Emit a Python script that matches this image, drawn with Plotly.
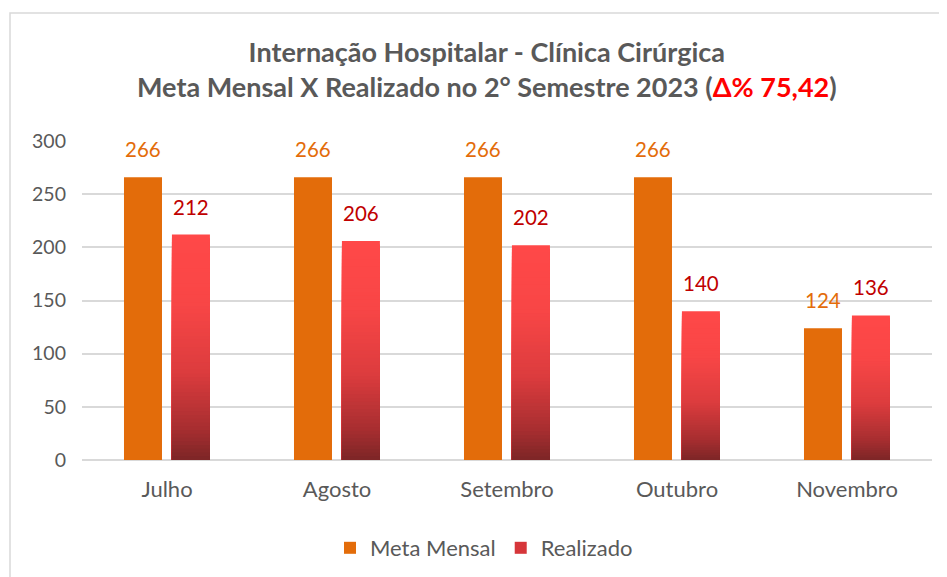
import plotly.graph_objects as go

# ---- data ----
months = ["Julho", "Agosto", "Setembro", "Outubro", "Novembro"]
meta_mensal = [266, 266, 266, 266, 124]
realizado = [212, 206, 202, 140, 136]
y_ticks = [0, 50, 100, 150, 200, 250, 300]

title_line1 = "Internação Hospitalar - Clínica Cirúrgica"
title_line2 = "Meta Mensal X Realizado no 2° Semestre 2023 ("
title_delta = "Δ% 75,42"

FONT = "Lato, 'Open Sans', sans-serif"
GRAY = "#595959"
ORANGE = "#E36C0A"
DARKRED = "#C00000"

# page body offset (browser default margin)
PAGE = 8
PL, PR, PT, PB = 82 - PAGE, 932 - PAGE, 141 - PAGE, 460 - PAGE   # plot area in figure px
FW, FH = 947 - PAGE, 577 - PAGE

def px_x(px):
    return (px - PAGE - PL) / (PR - PL)

def px_y(py):
    return (PB - (py - PAGE)) / (PB - PT)

# gradient stops for Realizado bars (t=0 top, t=1 bottom)
stops = [(0.0, (255, 72, 72)), (0.3, (248, 70, 70)), (0.6, (220, 60, 62)),
         (0.85, (168, 46, 48)), (1.0, (122, 37, 38))]

def grad(t):
    for (t0, c0), (t1, c1) in zip(stops[:-1], stops[1:]):
        if t0 <= t <= t1:
            f = (t - t0) / (t1 - t0) if t1 > t0 else 0
            return "rgb(%d,%d,%d)" % tuple(round(a + (b - a) * f) for a, b in zip(c0, c1))
    return "rgb(%d,%d,%d)" % stops[-1][1]

W = 0.2235
OFF_META = -0.253
OFF_REAL = 0.029

fig = go.Figure()
fig.add_trace(go.Bar(
    x=months, y=meta_mensal, name="Meta Mensal", marker=dict(color=ORANGE, line=dict(width=0)),
    width=W, offset=OFF_META, legendrank=1, hoverinfo="x+y",
))

N = 60
for i in range(N):
    frac = 1 - i / N
    fig.add_trace(go.Bar(
        x=months, y=[v * frac for v in realizado], name="Realizado",
        marker=dict(color=grad(i / N), line=dict(width=0)),
        width=W, offset=OFF_REAL, showlegend=False, hoverinfo="skip",
    ))
# legend entry for Realizado
fig.add_trace(go.Bar(
    x=[months[0]], y=[None], name="Realizado", marker=dict(color="rgb(214,54,58)", line=dict(width=0)),
    width=W, offset=OFF_REAL, showlegend=True, legendrank=2,
))

annotations = []
for i, (m, r) in enumerate(zip(meta_mensal, realizado)):
    annotations.append(dict(x=i + OFF_META + W / 2, y=m, xref="x", yref="y", text=str(m),
                            showarrow=False, yanchor="middle", yshift=28,
                            font=dict(family=FONT, size=20.5, color=ORANGE)))
    annotations.append(dict(x=i + OFF_REAL + W / 2, y=r, xref="x", yref="y", text=str(r),
                            showarrow=False, yanchor="middle", yshift=28,
                            font=dict(family=FONT, size=20.5, color=DARKRED)))

# title
annotations.append(dict(
    xref="paper", yref="paper", x=px_x(487), y=px_y(69), xanchor="center", yanchor="middle",
    showarrow=False, align="center",
    text=("<b>" + title_line1 + "</b><br><b>" + title_line2 +
          "<span style='color:#FF0000'>" + title_delta + "</span>)</b>"),
    font=dict(family=FONT, size=27, color=GRAY),
))

fig.update_layout(
    width=FW, height=FH,
    margin=dict(l=PL, r=FW - PR, t=PT, b=FH - PB, autoexpand=False),
    paper_bgcolor="white", plot_bgcolor="white",
    barmode="overlay",
    font=dict(family=FONT, color=GRAY, size=19),
    xaxis=dict(categoryorder="array", categoryarray=months, showgrid=False, zeroline=False,
               showline=False, ticks="", ticklabelstandoff=14,
               tickfont=dict(family=FONT, size=22, color=GRAY), range=[-0.5, 4.5]),
    yaxis=dict(range=[0, 300], tickvals=y_ticks, showgrid=True, gridcolor="#D9D9D9", gridwidth=1.5,
               zeroline=True, zerolinecolor="#D9D9D9", zerolinewidth=1.5, showline=False, ticks="",
               ticklabelstandoff=15, tickfont=dict(family=FONT, size=19.5, color=GRAY)),
    legend=dict(orientation="h", xref="container", yref="container", x=(484 - PAGE) / FW,
                y=(577 - 548) / FH, xanchor="center", yanchor="middle",
                font=dict(family=FONT, size=22, color=GRAY),
                traceorder="normal", itemwidth=30),
    annotations=annotations,
    showlegend=True,
    shapes=[dict(type="rect", xref="paper", yref="paper",
                 x0=px_x(10), x1=px_x(990), y0=px_y(640), y1=px_y(13),
                 line=dict(color="#D9D9D9", width=1.5), fillcolor="rgba(0,0,0,0)", layer="below")],
)

fig.write_html("out.html")
